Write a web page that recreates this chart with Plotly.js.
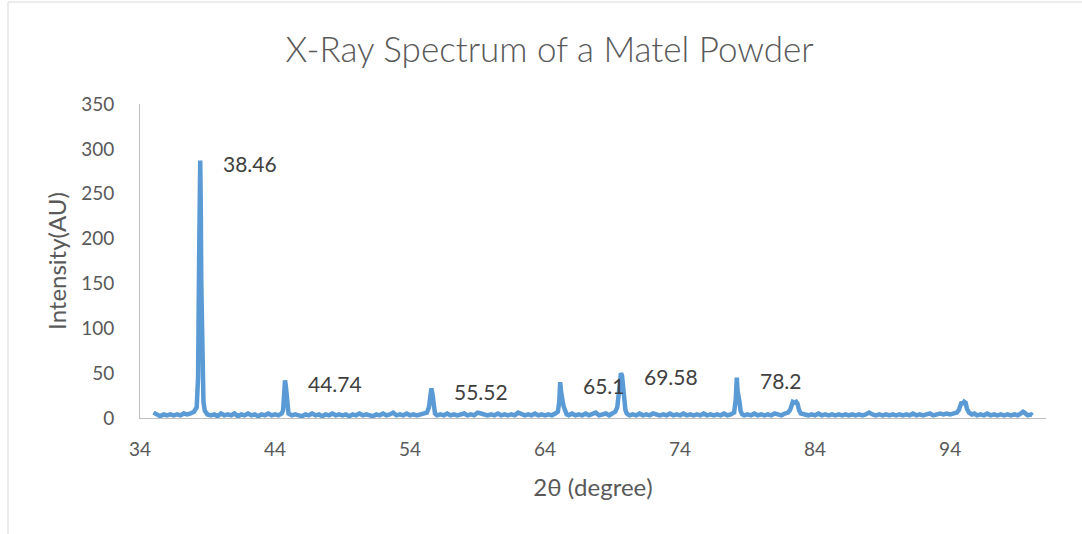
<!DOCTYPE html>
<html>
<head>
<meta charset="utf-8">
<script src="https://cdn.plot.ly/plotly-3.0.1.min.js"></script>
<style>
html,body{margin:0;padding:0;background:#fff;}
#chart{width:1082px;height:534px;}
</style>
</head>
<body>
<div id="chart"></div>
<script>
// 2θ positions (degree)
const twoTheta = [
 35.0,35.1,35.25,35.5,35.75,36.0,36.25,36.5,36.75,37.0,37.25,37.5,37.75,38.0,38.2,38.3,38.38,38.46,38.5,38.54,38.6,38.7,38.8,38.9,
 39.0,39.25,39.5,39.75,40.0,40.25,40.5,40.75,41.0,41.25,41.5,41.75,42.0,42.25,42.5,42.75,43.0,43.25,43.5,43.75,44.0,44.25,44.5,
 44.6,44.68,44.74,44.8,44.86,44.92,45.0,
 45.25,45.5,45.75,46.0,46.25,46.5,46.75,47.0,47.25,47.5,47.75,48.0,48.25,48.5,48.75,49.0,49.25,49.5,49.75,50.0,50.25,50.5,50.75,
 51.0,51.25,51.5,51.75,52.0,52.25,52.5,52.75,53.0,53.25,53.5,53.75,54.0,54.25,54.5,54.75,55.0,55.25,
 55.4,55.5,55.58,55.66,55.74,55.85,
 56.0,56.25,56.5,56.75,57.0,57.25,57.5,57.75,58.0,58.25,58.5,58.75,59.0,59.25,59.5,59.75,60.0,60.25,60.5,60.75,61.0,61.25,61.5,
 61.75,62.0,62.25,62.5,62.75,63.0,63.25,63.5,63.75,64.0,64.25,64.5,64.75,64.95,
 65.05,65.12,65.18,65.25,65.32,65.4,65.5,65.6,
 65.75,66.0,66.25,66.5,66.75,67.0,67.25,67.5,67.75,68.0,68.25,68.5,68.75,69.0,69.2,69.35,
 69.45,69.55,69.62,69.7,69.78,69.86,69.95,70.05,
 70.25,70.5,70.75,71.0,71.25,71.5,71.75,72.0,72.25,72.5,72.75,73.0,73.25,73.5,73.75,74.0,74.25,74.5,74.75,75.0,75.25,75.5,75.75,
 76.0,76.25,76.5,76.75,77.0,77.25,77.5,77.75,78.0,
 78.12,78.2,78.26,78.32,78.4,78.48,78.6,
 78.75,79.0,79.25,79.5,79.75,80.0,80.25,80.5,80.75,81.0,81.25,81.5,81.75,82.0,82.15,
 82.25,82.35,82.5,82.6,82.7,82.8,82.95,
 83.25,83.5,83.75,84.0,84.25,84.5,84.75,85.0,85.25,85.5,85.75,86.0,86.25,86.5,86.75,87.0,87.25,87.5,87.75,88.0,88.25,88.5,88.75,
 89.0,89.25,89.5,89.75,90.0,90.25,90.5,90.75,91.0,91.25,91.5,91.75,92.0,92.25,92.5,92.75,93.0,93.25,93.5,93.75,94.0,94.25,94.5,94.65,
 94.75,94.85,94.95,95.05,95.15,95.25,95.4,95.6,
 95.8,96.0,96.25,96.5,96.75,97.0,97.25,97.5,97.75,98.0,98.25,98.5,98.75,99.0,99.25,99.4,99.5,99.75,100.0,100.1
];
// Intensity (AU)
const intensity = [
 6,5,3,2,4,3,4,3,4,3,5,4,5,7,12,45,180,287,240,150,60,18,8,5,
 4,3,4,2,5,3,4,3,5,2,4,3,5,3,4,2,4,3,5,3,4,3,5,
 9,30,42,36,24,10,5,
 3,4,3,2,4,3,5,3,4,2,4,3,5,3,4,3,4,2,4,3,5,3,4,
 3,2,4,3,5,3,4,6,3,4,3,5,3,4,3,4,5,6,
 12,26,33,27,12,5,
 3,4,3,5,3,4,3,4,5,3,4,3,6,5,4,3,4,3,5,3,4,3,4,
 3,6,5,3,4,3,5,3,4,3,4,3,5,7,
 18,40,30,20,17,12,6,4,
 3,5,3,4,3,5,3,4,6,3,4,5,3,5,7,12,
 25,42,50,47,35,18,9,5,
 3,4,3,5,3,4,3,5,4,3,4,3,5,3,4,3,5,3,4,3,4,3,5,
 3,4,3,4,3,5,3,4,6,
 20,45,30,20,18,8,4,
 3,4,3,5,3,4,3,4,3,5,4,3,5,6,9,
 16,18,17,18,16,9,5,
 4,3,4,3,5,3,4,3,4,3,4,3,4,3,4,3,4,3,4,6,4,3,4,
 3,4,3,4,3,4,3,4,3,5,3,4,3,4,5,3,4,5,4,5,4,5,6,9,
 16,18,15,18,17,10,6,4,
 5,3,4,3,5,3,4,3,4,3,4,3,4,3,5,7,6,3,4,3
];
// Peak labels
const peakLabels = ["38.46","44.74","55.52","65.1","69.58","78.2"];
const peakX = [38.46, 44.74, 55.58, 65.12, 69.62, 78.2];
const peakY = [287, 42, 33, 40, 50, 45];
const xTicks = [34,44,54,64,74,84,94];
const yTicks = [0,50,100,150,200,250,300,350];

const FONT = "Lato, 'Open Sans', sans-serif";
const annotations = peakLabels.map((t,i)=>({
  x: peakX[i], y: peakY[i], xref:'x', yref:'y', text: t, showarrow:false,
  xanchor:'left', yanchor:'middle', xshift:21, yshift:-3,
  font:{family:FONT, size:21, color:'#404040'}
}));

const trace = {
  x: twoTheta, y: intensity, type:'scatter', mode:'lines',
  line:{color:'#5B9BD5', width:4.5, shape:'linear'},
  hoverinfo:'x+y'
};

const layout = {
  width:1082, height:534,
  margin:{l:140, r:36, t:104, b:116},
  paper_bgcolor:'#ffffff', plot_bgcolor:'#ffffff',
  showlegend:false,
  title:{text:'X-Ray Spectrum of a Matel Powder', x:0.508, xref:'container', xanchor:'center',
         y:0.906, yref:'container', yanchor:'middle',
         font:{family:FONT, size:35, color:'#595959', weight:300}},
  xaxis:{range:[34,101.1], tickvals:xTicks, ticktext:xTicks.map(String),
         showgrid:false, zeroline:false, showline:true, linecolor:'#BFBFBF', linewidth:1,
         ticks:'outside', ticklen:14, tickcolor:'rgba(0,0,0,0)',
         tickfont:{family:FONT, size:19, color:'#595959'},
         title:{text:'2θ (degree)', standoff:20, font:{family:FONT, size:24, color:'#595959'}}},
  yaxis:{range:[0,350], tickvals:yTicks, ticktext:yTicks.map(String),
         showgrid:false, zeroline:false, showline:true, linecolor:'#BFBFBF', linewidth:1,
         ticks:'outside', ticklen:21, tickcolor:'rgba(0,0,0,0)',
         tickfont:{family:FONT, size:19, color:'#595959'},
         title:{text:'Intensity(AU)', standoff:7, font:{family:FONT, size:24, color:'#595959'}}},
  annotations: annotations,
  shapes:[{type:'rect', xref:'paper', yref:'paper', x0:(8-140)/906, x1:(1090-140)/906,
           y0:(418-545)/314, y1:(418-2)/314, line:{color:'#D9D9D9', width:1}, fillcolor:'rgba(0,0,0,0)', layer:'below'}]
};

Plotly.newPlot('chart', [trace], layout, {displayModeBar:false, staticPlot:true});
</script>
</body>
</html>
